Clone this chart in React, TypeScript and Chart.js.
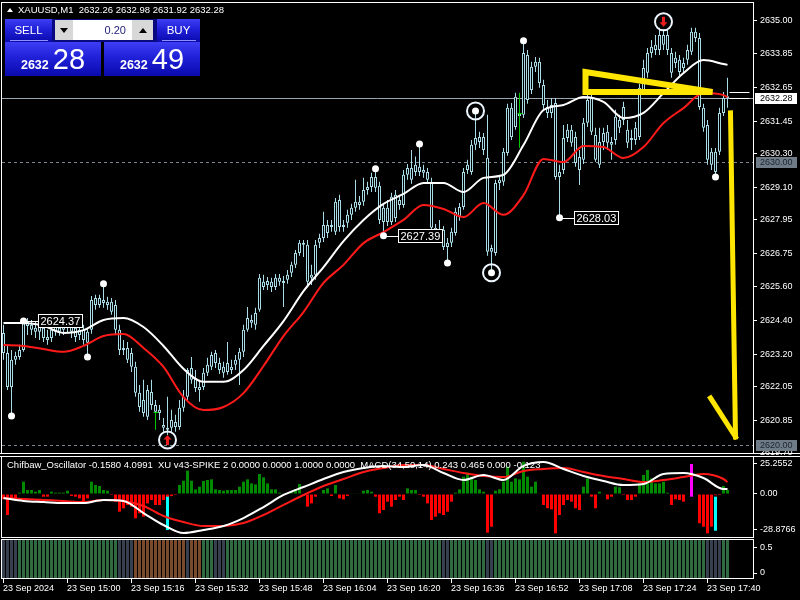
import React, { useEffect, useRef } from "react";
import { Chart, registerables } from "chart.js";

Chart.register(...registerables);

const FONT = "'Liberation Sans', Arial, Helvetica, sans-serif";

// ---------------- Main panel: XAUUSD M1 candles (14:44 .. 17:45) ----------------
const open = [
  2623.95, 2623.24, 2622.04, 2623.00, 2623.10, 2623.35, 2624.20, 2624.24, 2624.13, 2623.99,
  2624.13, 2623.81, 2623.77, 2623.99, 2624.13, 2624.06, 2624.13, 2624.31, 2624.13, 2623.88,
  2624.06, 2623.99, 2624.06, 2624.94, 2625.19, 2625.01, 2625.05, 2625.05, 2624.94, 2624.06,
  2623.35, 2623.42, 2623.24, 2622.75, 2621.83, 2621.58, 2620.98, 2621.86, 2621.40, 2621.23,
  2620.69, 2620.59, 2620.59, 2620.80, 2620.62, 2621.30, 2621.69, 2622.29, 2622.36, 2622.04,
  2622.04, 2622.54, 2622.75, 2622.89, 2622.89, 2622.75, 2622.57, 2622.75, 2622.82, 2623.00,
  2623.28, 2624.06, 2624.31, 2624.24, 2624.77, 2625.58, 2625.79, 2625.76, 2625.58, 2625.90,
  2625.76, 2625.83, 2626.08, 2626.36, 2626.78, 2627.07, 2627.07, 2625.90, 2626.01, 2627.14,
  2627.31, 2627.49, 2627.77, 2627.53, 2628.66, 2627.70, 2627.85, 2628.13, 2628.38, 2628.59,
  2628.59, 2629.01, 2629.12, 2629.47, 2629.16, 2627.88, 2628.38, 2627.88, 2628.84, 2628.48,
  2628.48, 2629.55, 2629.79, 2629.65, 2629.83, 2629.72, 2629.65, 2629.30, 2627.67, 2627.42,
  2627.60, 2626.99, 2627.14, 2627.49, 2628.06, 2628.41, 2629.72, 2629.65, 2630.61, 2630.89,
  2630.89, 2630.15, 2626.82, 2626.78, 2629.26, 2629.30, 2630.32, 2631.92, 2631.24, 2631.63,
  2631.67, 2633.79, 2632.55, 2633.37, 2633.55, 2632.73, 2631.95, 2631.74, 2632.09, 2629.47,
  2629.72, 2630.85, 2631.14, 2630.89, 2630.18, 2630.08, 2631.39, 2632.27, 2630.96, 2630.71,
  2630.71, 2630.68, 2630.71, 2630.78, 2631.49, 2631.49, 2631.14, 2630.78, 2630.78, 2630.89,
  2632.55, 2633.16, 2633.86, 2633.97, 2633.97, 2634.50, 2634.50, 2633.86, 2633.51, 2633.62,
  2633.33, 2633.62, 2633.90, 2634.61, 2634.39, 2631.92, 2631.31, 2630.36, 2629.65, 2630.36,
  2631.74, 2632.26,
];
const high = [
  2624.24, 2623.53, 2623.35, 2623.28, 2623.53, 2624.37, 2624.48, 2624.41, 2624.34, 2624.48,
  2624.34, 2624.06, 2624.24, 2624.41, 2624.34, 2624.41, 2624.48, 2624.48, 2624.34, 2624.24,
  2624.24, 2624.13, 2625.26, 2625.30, 2625.30, 2625.69, 2625.23, 2625.19, 2625.12, 2624.24,
  2623.70, 2623.63, 2623.42, 2622.93, 2622.11, 2622.29, 2622.11, 2622.29, 2621.58, 2621.40,
  2620.94, 2621.69, 2621.23, 2621.05, 2621.58, 2621.93, 2622.71, 2623.10, 2622.64, 2622.29,
  2622.71, 2623.07, 2623.28, 2623.35, 2623.07, 2622.93, 2623.63, 2623.00, 2623.17, 2623.42,
  2624.24, 2624.87, 2624.59, 2624.84, 2626.04, 2626.01, 2625.93, 2625.90, 2626.04, 2626.04,
  2625.97, 2626.18, 2626.47, 2626.89, 2627.24, 2627.24, 2627.24, 2626.36, 2627.24, 2627.46,
  2628.24, 2627.95, 2627.95, 2628.73, 2628.84, 2627.95, 2628.31, 2628.52, 2629.37, 2628.80,
  2629.44, 2629.30, 2629.62, 2629.76, 2629.30, 2628.52, 2628.66, 2628.91, 2629.01, 2628.80,
  2629.72, 2629.93, 2630.43, 2630.20, 2630.64, 2629.90, 2629.79, 2629.44, 2627.81, 2627.95,
  2627.74, 2627.31, 2627.67, 2628.38, 2628.55, 2629.79, 2630.08, 2630.78, 2631.81, 2631.07,
  2631.03, 2631.67, 2627.07, 2629.37, 2629.51, 2630.50, 2632.06, 2632.09, 2632.45, 2631.92,
  2634.29, 2633.97, 2633.55, 2633.72, 2633.69, 2632.91, 2632.20, 2632.27, 2632.27, 2629.90,
  2631.31, 2631.35, 2631.31, 2631.07, 2630.43, 2631.56, 2633.08, 2632.48, 2631.21, 2631.21,
  2631.21, 2631.31, 2630.89, 2631.85, 2631.67, 2632.13, 2631.49, 2631.14, 2631.42, 2632.77,
  2633.62, 2634.04, 2634.32, 2634.50, 2634.75, 2634.68, 2634.68, 2634.04, 2633.90, 2633.79,
  2633.69, 2634.15, 2634.75, 2634.75, 2634.57, 2632.06, 2631.49, 2630.50, 2630.50, 2631.92,
  2632.48, 2632.98,
];
const low = [
  2623.00, 2621.93, 2621.01, 2622.82, 2623.00, 2623.28, 2623.88, 2623.88, 2623.77, 2623.70,
  2623.63, 2623.53, 2623.63, 2623.85, 2623.85, 2623.88, 2623.95, 2623.77, 2623.63, 2623.70,
  2623.53, 2623.10, 2623.92, 2624.77, 2624.84, 2624.84, 2624.77, 2624.59, 2623.88, 2623.17,
  2623.17, 2622.89, 2622.57, 2621.69, 2621.16, 2620.98, 2620.87, 2621.23, 2620.94, 2620.87,
  2620.45, 2620.34, 2620.45, 2620.45, 2620.52, 2621.16, 2621.58, 2622.15, 2621.86, 2621.51,
  2621.93, 2622.43, 2622.64, 2622.71, 2622.50, 2622.36, 2622.47, 2622.50, 2622.64, 2622.11,
  2623.10, 2623.99, 2624.13, 2624.06, 2624.70, 2625.47, 2625.47, 2625.40, 2625.47, 2625.62,
  2624.87, 2625.69, 2625.93, 2626.25, 2626.68, 2626.64, 2625.65, 2625.65, 2625.83, 2626.96,
  2627.17, 2627.31, 2627.53, 2627.42, 2627.53, 2627.53, 2627.67, 2627.95, 2628.24, 2628.31,
  2628.45, 2628.84, 2628.94, 2628.94, 2627.81, 2627.39, 2627.74, 2627.77, 2627.88, 2628.31,
  2628.38, 2629.37, 2629.23, 2629.51, 2629.51, 2629.44, 2629.23, 2627.53, 2627.24, 2627.24,
  2626.89, 2626.43, 2626.99, 2627.39, 2627.92, 2628.31, 2629.58, 2629.55, 2630.43, 2630.50,
  2630.25, 2626.68, 2626.08, 2626.68, 2629.01, 2629.16, 2630.22, 2630.78, 2631.14, 2631.49,
  2631.56, 2632.06, 2632.41, 2633.19, 2632.63, 2631.85, 2631.56, 2631.56, 2629.37, 2628.03,
  2629.58, 2630.71, 2630.54, 2629.83, 2629.19, 2629.93, 2631.24, 2630.96, 2630.01, 2629.79,
  2630.43, 2630.43, 2630.08, 2630.61, 2631.03, 2631.31, 2630.50, 2630.43, 2630.61, 2630.78,
  2632.38, 2632.98, 2633.69, 2633.79, 2633.79, 2633.97, 2633.79, 2632.98, 2633.33, 2633.05,
  2633.19, 2633.44, 2633.79, 2634.25, 2631.85, 2631.07, 2629.90, 2629.72, 2629.47, 2630.25,
  2631.63, 2631.92,
];
const close = [
  2623.24, 2622.04, 2623.00, 2623.14, 2623.35, 2624.31, 2624.34, 2624.06, 2623.99, 2624.31,
  2623.77, 2623.70, 2624.06, 2624.16, 2623.99, 2624.16, 2624.24, 2623.99, 2623.81, 2624.06,
  2623.70, 2623.60, 2625.12, 2625.19, 2624.94, 2625.12, 2624.94, 2624.70, 2624.06, 2623.35,
  2623.42, 2623.00, 2622.75, 2621.83, 2621.33, 2621.12, 2621.93, 2621.40, 2621.16, 2621.12,
  2620.59, 2620.52, 2620.87, 2620.62, 2621.30, 2621.69, 2622.64, 2622.71, 2622.00, 2621.93,
  2622.54, 2622.82, 2623.17, 2623.24, 2622.64, 2622.54, 2622.89, 2622.64, 2623.00, 2623.28,
  2624.06, 2624.48, 2624.41, 2624.66, 2625.90, 2625.76, 2625.65, 2625.58, 2625.90, 2625.76,
  2625.72, 2626.01, 2626.36, 2626.78, 2627.14, 2627.14, 2625.76, 2626.01, 2627.07, 2627.31,
  2627.77, 2627.77, 2627.70, 2628.59, 2627.70, 2627.77, 2628.13, 2628.38, 2628.59, 2628.48,
  2629.01, 2629.12, 2629.47, 2629.09, 2627.95, 2628.38, 2627.88, 2628.77, 2628.02, 2628.66,
  2629.55, 2629.79, 2629.37, 2629.90, 2629.65, 2629.62, 2629.37, 2627.67, 2627.42, 2627.60,
  2626.99, 2627.14, 2627.53, 2628.24, 2628.41, 2629.65, 2629.90, 2630.61, 2630.85, 2630.71,
  2630.43, 2626.82, 2626.96, 2629.26, 2629.37, 2630.36, 2631.92, 2630.89, 2632.31, 2631.74,
  2633.86, 2632.20, 2633.37, 2633.55, 2632.80, 2632.02, 2631.74, 2632.02, 2629.47, 2629.65,
  2630.85, 2631.14, 2630.68, 2629.97, 2629.72, 2631.39, 2632.20, 2631.07, 2630.08, 2629.90,
  2631.03, 2631.07, 2630.61, 2631.60, 2631.21, 2631.95, 2630.68, 2630.85, 2631.21, 2632.63,
  2633.33, 2633.86, 2634.08, 2634.15, 2634.50, 2634.15, 2633.97, 2633.16, 2633.69, 2633.19,
  2633.51, 2633.97, 2634.61, 2634.39, 2631.95, 2631.21, 2630.08, 2629.90, 2630.36, 2631.74,
  2632.27, 2632.28,
];

// Moving averages, every 5 candles
const maIdx = [0, 5, 10, 15, 20, 25, 30, 35, 40, 45, 50, 55, 60, 65, 70, 75, 80, 85, 90, 95,
  100, 105, 110, 115, 120, 125, 130, 135, 140, 145, 150, 155, 160, 165, 170, 175, 180, 181];
const fastMa = [2624.30, 2624.30, 2624.20, 2623.95, 2624.05, 2624.41, 2624.48, 2624.16, 2623.49, 2622.68,
  2622.22, 2622.22, 2622.64, 2623.49, 2624.37, 2625.43, 2626.28, 2627.20, 2627.95, 2628.52,
  2628.87, 2629.26, 2629.26, 2628.94, 2629.44, 2629.55, 2630.60, 2631.84, 2632.02, 2632.30,
  2632.13, 2631.56, 2631.74, 2632.44, 2633.15, 2633.61, 2633.47, 2633.44];
const slowMa = [2623.52, 2623.49, 2623.38, 2623.28, 2623.49, 2623.84, 2623.91, 2623.42, 2622.75, 2621.68,
  2621.22, 2621.33, 2621.82, 2622.78, 2623.84, 2624.69, 2625.72, 2626.36, 2627.13, 2627.52,
  2627.95, 2628.48, 2628.34, 2628.05, 2628.55, 2628.13, 2628.83, 2630.11, 2630.00, 2630.57,
  2630.53, 2630.14, 2630.53, 2631.38, 2631.91, 2632.44, 2632.37, 2632.30];

const priceTicks = [2635.0, 2633.85, 2632.65, 2631.45, 2630.3, 2629.1, 2627.95, 2626.75,
  2625.6, 2624.4, 2623.2, 2622.05, 2620.85, 2619.7];
const priceMin = 2619.7;
const priceMax = 2635.63;
const bidPrice = 2632.28;
const askPrice = 2632.49;
const levelPrices = [2630.0, 2620.0];

// fractal dots, rings, arrows, price labels
const dotIdx = [2, 5, 21, 25, 93, 95, 104, 111, 118, 122, 130, 139, 178];
const dotSide = ["l", "h", "l", "h", "h", "l", "h", "l", "h", "l", "h", "l", "l"];
const ringIdx = [118, 122];
const ringSide = ["h", "l"];
const arrowUpIdx = [41];
const arrowDownIdx = [165];
const labelIdx = [5, 95, 139];
const labelSide = ["h", "l", "l"];
const greenIdx = [38, 129];
const greenTop = [2621.12, 2632.45];
const greenBottom = [2620.52, 2630.5];
// hand-drawn yellow annotations (candle index, price)
const triangleIdx = [145.5, 145.5, 177.25];
const trianglePrice = [2633.19, 2632.48, 2632.48];
const arrowIdx = [181.75, 183, 176.75];
const arrowPrice = [2631.74, 2620.27, 2621.65];

// ---------------- Oscillator panel ----------------
const oscHist = [
  -4.4, -17.2, -4.9, -3.6, 1.1, 10.1, 3.3, 3.3, 1.9, 3.3,
  -2.2, -2.2, 1.9, 1.1, 1.1, 1.1, 2.7, -1.6, -2.2, -3.6,
  -6.3, -3.6, 10.1, 7.4, 6.6, 3.3, 2.7, -0.8, -6.3, -14.5,
  -11.7, -9.0, -10.4, -19.9, -15.8, -18.6, -7.7, -4.9, -9.0, -9.0,
  -4.9, -3.0, -1.6, -0.8, 7.4, 10.9, 19.1, 10.9, 3.8, 6.0,
  10.7, 11.5, 12.0, 3.8, 3.3, 2.7, 3.3, 3.3, 3.3, 6.0,
  10.1, 12.0, 8.7, 7.9, 16.4, 13.7, 8.7, 3.8, 3.8, 1.1,
  0.5, 0.5, 1.9, 3.8, 8.2, -1.6, -10.4, -7.7, -2.2, 0.5,
  3.3, 4.6, -1.6, 7.4, -3.6, -4.4, -1.6, 0.3, 0.3, 0.3,
  2.7, 3.3, 1.9, -2.2, -15.8, -13.1, -6.3, -10.4, -4.9, -2.2,
  -4.9, 4.6, 3.3, 3.3, -0.8, -2.2, -7.7, -21.3, -18.6, -15.8,
  -17.2, -14.5, -6.3, 1.1, 3.8, 14.2, 17.5, 14.2, 11.5, 3.8,
  1.9, -31.7, -26.8, 2.7, 3.8, 10.1, 22.4, 10.1, 12.8, 12.0,
  26.5, 14.2, 6.0, 10.1, 0.3, -9.0, -11.7, -12.6, -32.2, -17.2,
  -9.0, -4.9, -6.3, -11.7, -13.1, 6.0, 12.8, -2.2, -11.7, 1.9,
  0.5, -4.4, -2.2, 6.0, 5.5, -0.8, -4.9, -4.9, -2.2, 8.7,
  15.6, 19.7, 12.8, 8.7, 8.7, 10.1, 1.1, -9.0, -4.4, -4.9,
  -6.3, 0.3, -1.0, 0.3, -24.0, -26.8, -32.2, -26.8, -1.0, -0.8,
  6.6, 3.3,
];
const oscWhite = [-3.3, -5.7, -6.6, -7.4, -7.4, -4.9, -5.7, -15.6, -25.4, -32.0,
  -29.5, -26.2, -19.7, -10.7, -0.8, 5.7, 12.3, 18.0, 21.3, 23.0,
  22.1, 23.8, 17.2, 11.5, 15.6, 11.5, 23.0, 26.2, 20.5, 14.8,
  10.7, 7.4, 8.2, 16.4, 17.2, 13.1, 4.1, 4.1];
const oscRed = [-3.3, -4.1, -4.9, -5.7, -6.6, -4.9, -5.7, -9.8, -18.0, -23.0,
  -26.2, -26.2, -23.8, -17.2, -9.0, -0.8, 6.6, 12.3, 18.0, 21.3,
  23.8, 23.8, 20.5, 17.2, 14.8, 13.9, 18.9, 20.5, 21.3, 18.0,
  14.8, 12.3, 9.8, 11.5, 13.9, 16.4, 12.3, 9.8];
const cyanSpikeIdx = [41, 178];
const cyanSpikeFrom = [-2.2, -2.2];
const cyanSpikeTo = [-29.5, -30.1];
const magentaSpikeIdx = [172];
const magentaSpikeFrom = [24.6];
const magentaSpikeTo = [-2.2];
const oscTicks = [25.2552, 0, -28.8766];
const oscTickLabels = ["25.2552", "0.00", "-28.8766"];
const oscMin = -35.25;
const oscMax = 30.33;

// ---------------- Regime bar panel ----------------
const regimeRuns: [string, number][] = [
  ["n", 4], ["g", 25], ["n", 4], ["b", 13], ["n", 1], ["b", 3], ["g", 3], ["n", 3],
  ["g", 54], ["n", 2], ["g", 9], ["n", 2], ["g", 53], ["n", 4], ["g", 2],
];
const regimeTicks = [0.5, 0];
const regimeTickLabels = ["0.5", "0"];

// ---------------- Time axis ----------------
const timeTickIdx = [0, 16, 32, 48, 64, 80, 96, 112, 128, 144, 160, 176];
const timeTickLabels = ["23 Sep 2024", "23 Sep 15:00", "23 Sep 15:16", "23 Sep 15:32",
  "23 Sep 15:48", "23 Sep 16:04", "23 Sep 16:20", "23 Sep 16:36", "23 Sep 16:52",
  "23 Sep 17:08", "23 Sep 17:24", "23 Sep 17:40"];

// ------------------------------------------------------------
const N = close.length;
const candleIdx = close.map((_, i) => i);
const regime: string[] = [];
regimeRuns.forEach(([k, n]) => { for (let j = 0; j < n; j++) regime.push(k); });

const X_MIN = -0.375;
const X_MAX = 187.375;
const CANDLE = "#a9dbe6";
const YELLOW = "#ffe600";

function rightAxis(min: number, max: number, values: number[], labels: string[]): any {
  return {
    type: "linear",
    position: "right",
    min,
    max,
    afterFit: (s: any) => { s.width = 47; s.paddingTop = 0; s.paddingBottom = 0; },
    afterBuildTicks: (s: any) => { s.ticks = values.map((v) => ({ value: v })); },
    grid: { drawOnChartArea: false, drawTicks: true, tickLength: 4, color: "#ffffff", lineWidth: 1 },
    border: { display: false },
    ticks: {
      color: "#ffffff",
      font: { family: FONT, size: 9 },
      padding: 3,
      autoSkip: false,
      maxRotation: 0,
      callback: (_v: any, i: number) => labels[i],
    },
  };
}

function baseOptions(padding: any, yAxis: any): any {
  return {
    animation: false,
    responsive: false,
    devicePixelRatio: 1,
    events: [],
    layout: { padding },
    plugins: { legend: { display: false }, tooltip: { enabled: false } },
    scales: {
      x: { type: "linear", min: X_MIN, max: X_MAX, offset: false, display: false, grid: { offset: false } },
      y: yAxis,
    },
  };
}

function drawBorder(chart: any, fullTop = false, fullBottom = false) {
  const { ctx, chartArea: a, width } = chart;
  ctx.save();
  ctx.strokeStyle = "#ffffff";
  ctx.lineWidth = 1;
  ctx.strokeRect(a.left - 0.5, a.top - 0.5, a.right - a.left + 1, a.bottom - a.top + 1);
  if (fullTop) {
    ctx.beginPath(); ctx.moveTo(0, a.top - 0.5); ctx.lineTo(width, a.top - 0.5); ctx.stroke();
  }
  if (fullBottom) {
    ctx.beginPath(); ctx.moveTo(0, a.bottom + 0.5); ctx.lineTo(width, a.bottom + 0.5); ctx.stroke();
  }
  ctx.restore();
}

const mainPlugin = {
  id: "mainDecor",
  beforeDatasetsDraw(chart: any) {
    const { ctx, chartArea: a, scales } = chart;
    const Y = (p: number) => scales.y.getPixelForValue(p);
    ctx.save();
    ctx.lineWidth = 1;
    ctx.strokeStyle = "#7b8794";
    ctx.setLineDash([3, 3]);
    levelPrices.forEach((p) => {
      const yy = Math.round(Y(p)) + 0.5;
      ctx.beginPath(); ctx.moveTo(a.left, yy); ctx.lineTo(a.right, yy); ctx.stroke();
    });
    ctx.setLineDash([]);
    ctx.strokeStyle = "#9aa6b2";
    const by = Math.round(Y(bidPrice)) + 0.5;
    ctx.beginPath(); ctx.moveTo(a.left, by); ctx.lineTo(a.right, by); ctx.stroke();
    ctx.restore();
  },
  afterDatasetsDraw(chart: any) {
    const { ctx, scales } = chart;
    const X = (i: number) => scales.x.getPixelForValue(i);
    const Y = (p: number) => scales.y.getPixelForValue(p);
    const ext = (i: number, s: string) => (s === "h" ? high[i] : low[i]);
    ctx.save();

    // green signal marks
    ctx.strokeStyle = "#00c800";
    ctx.lineWidth = 1;
    greenIdx.forEach((i, k) => {
      const x = X(i);
      ctx.beginPath();
      ctx.moveTo(x, Y(greenTop[k])); ctx.lineTo(x, Y(greenBottom[k]));
      const ty = Math.round(Y(close[i])) + 0.5;
      ctx.moveTo(x - 2, ty); ctx.lineTo(x + 3, ty);
      ctx.stroke();
    });

    // short bid / ask lines at the right end
    ctx.strokeStyle = "#ffffff";
    [askPrice, bidPrice].forEach((p) => {
      const yy = Math.round(Y(p)) + 0.5;
      ctx.beginPath(); ctx.moveTo(X(N - 1) + 2, yy); ctx.lineTo(X(N - 1) + 22, yy); ctx.stroke();
    });

    // price label boxes
    ctx.font = `11px ${FONT}`;
    ctx.textBaseline = "middle";
    ctx.textAlign = "left";
    labelIdx.forEach((i, k) => {
      const x = X(i);
      const y = Math.round(Y(ext(i, labelSide[k]))) + 0.5;
      const txt = ext(i, labelSide[k]).toFixed(2);
      const w = Math.round(ctx.measureText(txt).width) + 4;
      ctx.strokeStyle = "#ffffff";
      ctx.beginPath(); ctx.moveTo(x, y); ctx.lineTo(x + 15, y); ctx.stroke();
      ctx.fillStyle = "#000000";
      ctx.fillRect(x + 15, y - 7, w, 13);
      ctx.strokeRect(x + 15, y - 7, w, 13);
      ctx.fillStyle = "#ffffff";
      ctx.fillText(txt, x + 17, y + 0.5);
    });

    // fractal dots
    ctx.fillStyle = "#ffffff";
    dotIdx.forEach((i, k) => {
      ctx.beginPath(); ctx.arc(X(i), Y(ext(i, dotSide[k])), 3.5, 0, Math.PI * 2); ctx.fill();
    });

    // rings around selected dots
    ctx.lineWidth = 2;
    ctx.strokeStyle = "#eef6ff";
    ringIdx.forEach((i, k) => {
      ctx.beginPath(); ctx.arc(X(i), Y(ext(i, ringSide[k])), 8.5, 0, Math.PI * 2); ctx.stroke();
    });

    // ringed arrows
    const ringArrow = (cx: number, cy: number, up: boolean) => {
      ctx.lineWidth = 2;
      ctx.strokeStyle = "#eef6ff";
      ctx.beginPath(); ctx.arc(cx, cy, 8.5, 0, Math.PI * 2); ctx.stroke();
      ctx.fillStyle = "#ee1c1c";
      const d = up ? -1 : 1;
      ctx.beginPath();
      ctx.moveTo(cx, cy + d * 5);
      ctx.lineTo(cx - 4, cy + d * 0.5);
      ctx.lineTo(cx - 1.5, cy + d * 0.5);
      ctx.lineTo(cx - 1.5, cy - d * 5);
      ctx.lineTo(cx + 1.5, cy - d * 5);
      ctx.lineTo(cx + 1.5, cy + d * 0.5);
      ctx.lineTo(cx + 4, cy + d * 0.5);
      ctx.closePath();
      ctx.fill();
    };
    arrowUpIdx.forEach((i) => ringArrow(X(i), Y(low[i]) + 5, true));
    arrowDownIdx.forEach((i) => ringArrow(X(i), Y(high[i]) - 8, false));

    // yellow hand drawings
    ctx.strokeStyle = YELLOW;
    ctx.lineWidth = 6;
    ctx.lineJoin = "miter";
    ctx.beginPath();
    triangleIdx.forEach((i, k) => {
      const x = X(i), y = Y(trianglePrice[k]);
      if (k === 0) ctx.moveTo(x, y); else ctx.lineTo(x, y);
    });
    ctx.closePath();
    ctx.stroke();
    ctx.lineWidth = 5;
    ctx.lineCap = "square";
    ctx.beginPath();
    ctx.moveTo(X(arrowIdx[0]), Y(arrowPrice[0]));
    ctx.lineTo(X(arrowIdx[1]), Y(arrowPrice[1]));
    ctx.stroke();
    ctx.beginPath();
    ctx.moveTo(X(arrowIdx[2]), Y(arrowPrice[2]));
    ctx.lineTo(X(arrowIdx[1]), Y(arrowPrice[1]));
    ctx.stroke();
    ctx.restore();
  },
  afterDraw(chart: any) {
    drawBorder(chart, false, true);
    const { ctx, chartArea: a, scales, width } = chart;
    const Y = (p: number) => scales.y.getPixelForValue(p);
    ctx.save();
    ctx.font = `9px ${FONT}`;
    ctx.textBaseline = "middle";
    ctx.textAlign = "left";
    levelPrices.forEach((p) => {
      const y = Math.round(Y(p));
      ctx.fillStyle = "#6f7b87";
      ctx.fillRect(a.right + 3, y - 5, width - a.right - 6, 11);
      ctx.fillStyle = "#1c242e";
      ctx.fillText(p.toFixed(2), a.right + 7, y + 0.5);
    });
    const by = Math.round(Y(bidPrice));
    ctx.fillStyle = "#ffffff";
    ctx.fillRect(a.right + 2, by - 5, width - a.right - 5, 11);
    ctx.fillStyle = "#000000";
    ctx.fillText(bidPrice.toFixed(2), a.right + 7, by + 0.5);
    ctx.restore();
  },
};

const oscPlugin = {
  id: "oscDecor",
  afterDraw(chart: any) { drawBorder(chart, true, false); },
};

const regimePlugin = {
  id: "regimeDecor",
  afterDraw(chart: any) {
    drawBorder(chart);
    const { ctx, chartArea: a, scales } = chart;
    ctx.save();
    ctx.strokeStyle = "#ffffff";
    ctx.fillStyle = "#ffffff";
    ctx.lineWidth = 1;
    ctx.font = `9px ${FONT}`;
    ctx.textBaseline = "middle";
    ctx.textAlign = "left";
    timeTickIdx.forEach((i, k) => {
      const x = Math.floor(scales.x.getPixelForValue(i)) + 0.5;
      ctx.beginPath(); ctx.moveTo(x, a.bottom + 1); ctx.lineTo(x, a.bottom + 5); ctx.stroke();
      ctx.fillText(timeTickLabels[k], x - 0.5, a.bottom + 10.5);
    });
    ctx.restore();
  },
};

export default function App() {
  const mainRef = useRef<HTMLCanvasElement>(null);
  const oscRef = useRef<HTMLCanvasElement>(null);
  const regRef = useRef<HTMLCanvasElement>(null);

  useEffect(() => {
    const charts: Chart[] = [];

    const mainOpts = baseOptions({ left: 2, top: 3, right: 0, bottom: 7 },
      rightAxis(priceMin, priceMax, priceTicks, priceTicks.map((v) => v.toFixed(2))));
    charts.push(new Chart(mainRef.current as HTMLCanvasElement, {
      type: "bar",
      data: {
        datasets: [
          {
            type: "bar",
            data: candleIdx.map((i) => ({ x: i, y: [low[i], high[i]] })),
            backgroundColor: CANDLE,
            barThickness: 1,
            grouped: false,
            inflateAmount: 0,
            clip: 0,
            order: 4,
          } as any,
          {
            type: "bar",
            data: candleIdx.map((i) => ({ x: i, y: [open[i], close[i]] })),
            backgroundColor: "#000000",
            borderColor: CANDLE,
            borderWidth: 1,
            borderSkipped: false,
            barThickness: 3,
            minBarLength: 2,
            grouped: false,
            inflateAmount: 0,
            clip: 0,
            order: 3,
          } as any,
          {
            type: "line",
            data: maIdx.map((i, k) => ({ x: i, y: slowMa[k] })),
            borderColor: "#ff1a1a",
            borderWidth: 2,
            pointRadius: 0,
            cubicInterpolationMode: "monotone",
            clip: 0,
            order: 2,
          } as any,
          {
            type: "line",
            data: maIdx.map((i, k) => ({ x: i, y: fastMa[k] })),
            borderColor: "#ffffff",
            borderWidth: 2,
            pointRadius: 0,
            cubicInterpolationMode: "monotone",
            clip: 0,
            order: 1,
          } as any,
        ],
      },
      options: mainOpts,
      plugins: [mainPlugin],
    }));

    const oscOpts = baseOptions({ left: 2, top: 2, right: 0, bottom: 2 },
      rightAxis(oscMin, oscMax, oscTicks, oscTickLabels));
    charts.push(new Chart(oscRef.current as HTMLCanvasElement, {
      type: "bar",
      data: {
        datasets: [
          {
            type: "bar",
            data: candleIdx.map((i) => ({ x: i, y: oscHist[i] })),
            backgroundColor: oscHist.map((v) => (v >= 0 ? "#008a00" : "#ff0000")),
            barThickness: 3,
            grouped: false,
            inflateAmount: 0,
            clip: 0,
            order: 5,
          } as any,
          {
            type: "bar",
            data: cyanSpikeIdx.map((i, k) => ({ x: i, y: [cyanSpikeFrom[k], cyanSpikeTo[k]] })),
            backgroundColor: "#00ffff",
            barThickness: 3,
            grouped: false,
            inflateAmount: 0,
            clip: 0,
            order: 4,
          } as any,
          {
            type: "bar",
            data: magentaSpikeIdx.map((i, k) => ({ x: i, y: [magentaSpikeFrom[k], magentaSpikeTo[k]] })),
            backgroundColor: "#ff00ff",
            barThickness: 3,
            grouped: false,
            inflateAmount: 0,
            clip: 0,
            order: 4,
          } as any,
          {
            type: "line",
            data: maIdx.map((i, k) => ({ x: i, y: oscRed[k] })),
            borderColor: "#ff1a1a",
            borderWidth: 2,
            pointRadius: 0,
            cubicInterpolationMode: "monotone",
            clip: 0,
            order: 2,
          } as any,
          {
            type: "line",
            data: maIdx.map((i, k) => ({ x: i, y: oscWhite[k] })),
            borderColor: "#ffffff",
            borderWidth: 2,
            pointRadius: 0,
            cubicInterpolationMode: "monotone",
            clip: 0,
            order: 1,
          } as any,
        ],
      },
      options: oscOpts,
      plugins: [oscPlugin],
    }));

    const regOpts = baseOptions({ left: 2, top: 1, right: 0, bottom: 22 },
      rightAxis(-0.096, 0.635, regimeTicks, regimeTickLabels));
    const regimeColor: Record<string, string> = { n: "#36404e", g: "#2f6a40", b: "#7a4a2c" };
    charts.push(new Chart(regRef.current as HTMLCanvasElement, {
      type: "bar",
      data: {
        datasets: [
          {
            type: "bar",
            data: candleIdx.map((i) => ({ x: i, y: [-1, 1] })),
            backgroundColor: regime.map((k) => regimeColor[k]),
            barThickness: 3,
            grouped: false,
            inflateAmount: 0,
            clip: 0,
          } as any,
        ],
      },
      options: regOpts,
      plugins: [regimePlugin],
    }));

    return () => charts.forEach((c) => c.destroy());
  }, []);

  const grad = "linear-gradient(180deg, #3e3ef4 0%, #2020d8 45%, #0a0aae 100%)";
  const abs = (o: any): any => ({ position: "absolute", ...o });
  const priceRow = (big: string) => (
    <div style={abs({ left: 0, top: 1, width: "100%", height: 30, display: "flex", alignItems: "baseline", justifyContent: "center", lineHeight: "30px", color: "#fff" })}>
      <span style={{ font: `bold 12.5px ${FONT}`, marginRight: 4 }}>2632</span>
      <span style={{ font: `29px ${FONT}` }}>{big}</span>
    </div>
  );
  const tri = (up: boolean) => (
    <div style={{ width: 0, height: 0, borderLeft: "4px solid transparent", borderRight: "4px solid transparent", [up ? "borderBottom" : "borderTop"]: "5px solid #000" }} />
  );

  return (
    <div style={abs({ left: 0, top: 0, width: 800, height: 600, background: "#000", overflow: "hidden", position: "fixed" })}>
      <canvas ref={mainRef} width={800} height={460} style={abs({ left: 0, top: 0 })} />
      <canvas ref={oscRef} width={800} height={84} style={abs({ left: 0, top: 455 })} />
      <canvas ref={regRef} width={800} height={61} style={abs({ left: 0, top: 539 })} />

      {/* symbol header */}
      <div style={abs({ left: 7, top: 4, color: "#fff", font: `9.5px ${FONT}`, lineHeight: "12px", whiteSpace: "pre", display: "flex", alignItems: "center" })}>
        <div style={{ width: 0, height: 0, borderLeft: "3px solid transparent", borderRight: "3px solid transparent", borderBottom: "4px solid #fff", marginRight: 5 }} />
        <span>{`XAUUSD,M1  ${open[N - 1].toFixed(2)} ${high[N - 1].toFixed(2)} ${low[N - 1].toFixed(2)} ${close[N - 1].toFixed(2)}`}</span>
      </div>

      {/* one-click trading panel */}
      <div style={abs({ left: 52, top: 19, width: 105, height: 23, background: "#0a0a80" })} />
      <div style={abs({ left: 5, top: 19, width: 47, height: 23, background: grad, color: "#fff", font: `11.5px ${FONT}`, display: "flex", alignItems: "center", justifyContent: "center", boxSizing: "border-box", paddingBottom: 2 })}>SELL</div>
      <div style={abs({ left: 10, top: 40, width: 38, height: 1, background: "#8f8fff" })} />
      <div style={abs({ left: 55, top: 20, width: 18, height: 20, background: "#d8d8d8", display: "flex", alignItems: "center", justifyContent: "center" })}>{tri(false)}</div>
      <div style={abs({ left: 73, top: 20, width: 59, height: 20, background: "#ffffff", color: "#1c1c78", font: `11px ${FONT}`, lineHeight: "20px", textAlign: "right", paddingRight: 6, boxSizing: "border-box" })}>0.20</div>
      <div style={abs({ left: 132, top: 20, width: 21, height: 20, background: "#d8d8d8", display: "flex", alignItems: "center", justifyContent: "center" })}>{tri(true)}</div>
      <div style={abs({ left: 157, top: 19, width: 43, height: 23, background: grad, color: "#fff", font: `11.5px ${FONT}`, display: "flex", alignItems: "center", justifyContent: "center", boxSizing: "border-box", paddingBottom: 2 })}>BUY</div>
      <div style={abs({ left: 162, top: 40, width: 34, height: 1, background: "#8f8fff" })} />
      <div style={abs({ left: 5, top: 42, width: 96, height: 34, background: grad })}>{priceRow("28")}</div>
      <div style={abs({ left: 104, top: 42, width: 96, height: 34, background: grad })}>{priceRow("49")}</div>

      {/* oscillator header */}
      <div style={abs({ left: 7, top: 459, color: "#fff", font: `9.5px ${FONT}`, lineHeight: "12px", whiteSpace: "pre" })}>
        {"Chifbaw_Oscillator -0.1580 4.0991  XU v43-SPIKE 2 0.0000 0.0000 1.0000 0.0000  MACD(34,50,14) 0.243 0.465 0.000 -0.123"}
      </div>
    </div>
  );
}
